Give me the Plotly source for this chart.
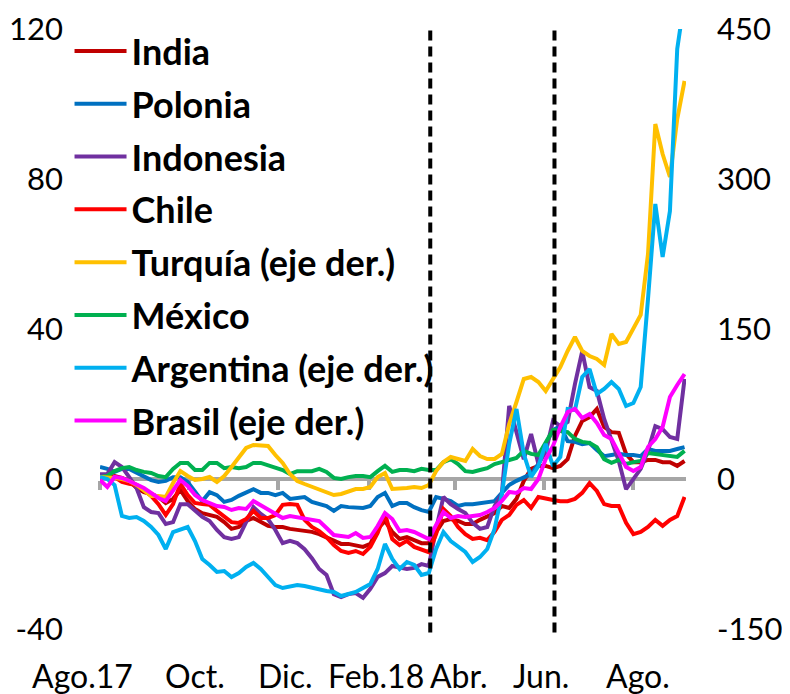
import pandas as pd
import plotly.graph_objects as go

# ---- data (5-day sampling, Aug-2017 .. Sep-2018) ----
dates = pd.date_range("2017-08-01", periods=81, freq="5D")

india = [0.5, 0.5, 0.8, 0.3, -0.5, -2.4, -3.5, -4.0, -4.8, -6.4,
         -5.3, -2.9, -5.9, -8.0, -9.1, -9.6, -10.1, -11.5, -13.3, -12.8,
         -11.2, -10.4, -11.5, -12.5, -12.8, -12.8, -13.3, -13.6, -13.9, -14.1,
         -14.7, -15.5, -16.5, -17.3, -17.3, -17.6, -18.1, -17.3, -13.3, -11.2,
         -14.1, -16.0, -15.5, -16.3, -17.1, -17.1, -13.9, -11.2, -10.7, -11.2,
         -12.0, -12.0, -10.9, -9.9, -9.1, -7.2, -7.7, -5.3, -0.5, 2.7,
         3.5, 3.5, 2.9, 3.5, 5.3, 11.5, 15.5, 16.5, 18.7, 13.9,
         12.5, 12.3, 6.7, 4.5, 4.5, 5.1, 5.1, 4.5, 4.5, 3.5, 4.8]

polonia = [3.2, 2.7, 1.9, 2.7, 2.7, 1.6, 0.5, -0.3, -0.8, -0.5,
           0.5, 0.5, -0.8, -3.2, -5.9, -3.5, -4.3, -6.1, -5.6, -4.5,
           -3.5, -2.7, -3.7, -3.7, -4.3, -3.7, -5.3, -5.1, -4.8, -6.1,
           -6.7, -7.2, -8.5, -7.2, -7.5, -7.7, -7.7, -7.2, -4.8, -3.7,
           -7.2, -6.4, -6.4, -7.5, -8.3, -8.8, -4.8, -5.3, -5.9, -7.2,
           -6.7, -6.7, -6.4, -6.1, -5.9, -3.7, -1.6, -0.5, 0.3, 1.3,
           4.0, 9.3, 13.1, 14.1, 10.1, 9.9, 9.3, 9.6, 7.7, 6.1,
           6.4, 6.7, 6.4, 6.4, 6.1, 8.0, 7.5, 7.5, 7.5, 8.0, 8.5]

indonesia = [1.3, 1.3, 4.5, 3.2, 0.5, -2.4, -7.5, -8.8, -9.1, -12.0,
             -11.5, -6.7, -6.7, -8.5, -10.1, -11.2, -13.6, -15.5, -16.0, -15.5,
             -11.7, -7.5, -9.3, -10.7, -13.6, -17.1, -16.5, -17.1, -18.7, -21.1,
             -24.0, -25.6, -30.7, -31.5, -30.7, -30.4, -31.7, -29.3, -26.1, -25.1,
             -23.2, -23.7, -24.0, -23.7, -22.7, -23.2, -13.3, -4.8, -6.7, -8.0,
             -9.1, -11.7, -13.3, -12.8, -7.2, -4.0, 19.5, 12.5, 5.3, 12.0,
             4.0, 7.2, 15.5, 14.1, 15.2, 25.3, 34.1, 24.5, 23.5, 16.0,
             10.7, 4.8, -2.7, 0.0, 2.7, 7.5, 14.1, 13.3, 11.2, 10.7, 26.7]

chile = [0.5, 0.3, 0.5, -0.8, -1.3, -1.6, -2.9, -4.5, -6.7, -9.6,
         -6.7, -1.3, -4.3, -6.4, -6.7, -6.9, -8.5, -10.1, -11.5, -11.7,
         -10.7, -8.5, -10.4, -10.4, -9.6, -6.9, -6.7, -6.9, -10.9, -12.8,
         -13.9, -15.5, -17.6, -19.2, -19.7, -19.2, -20.0, -18.1, -14.4, -9.3,
         -16.0, -17.6, -16.5, -18.1, -18.9, -19.5, -14.7, -8.0, -9.9, -12.8,
         -14.7, -16.0, -15.7, -16.3, -14.1, -10.9, -9.6, -6.9, -5.6, -7.7,
         -4.8, -5.3, -5.6, -5.9, -5.9, -5.3, -3.7, -1.1, -3.2, -6.7,
         -7.2, -7.2, -11.7, -14.7, -14.1, -12.8, -10.9, -12.5, -10.9, -9.9, -4.8]

turquia = [2, 2, 1, 0, -2, -6, -11, -17, -17, -18,
           -4, 8, 3, -1, 0, 2, -3, 3, 12, 21,
           31, 34, 33, 33, 24, 16, 5, -2, -5, -8,
           -10, -14, -16, -15, -12, -10, -10, -8, 2, 6,
           -10, -10, -9, -8, -9, -6, 8, 17, 22, 20,
           18, 30, 23, 20, 20, 25, 55, 77, 100, 102,
           97, 88, 100, 112, 128, 142, 128, 123, 120, 114,
           145, 135, 137, 150, 164, 225, 355, 325, 302, 360, 398]

mexico = [0.5, 0.8, 2.1, 2.9, 3.2, 2.4, 1.9, 1.6, 0.8, 0.5,
          2.7, 4.3, 4.3, 2.4, 2.4, 4.3, 4.3, 2.9, 3.2, 2.9,
          3.2, 4.3, 4.3, 3.7, 2.9, 2.4, 1.3, 2.1, 2.1, 2.1,
          2.7, 1.9, 0.3, 0.0, 0.5, 0.8, 0.8, 0.5, 2.1, 3.5,
          1.9, 2.4, 2.4, 2.1, 2.7, 2.4, 2.4, 4.5, 5.3, 4.0,
          2.1, 1.9, 2.4, 2.9, 4.0, 4.5, 5.1, 5.6, 7.5, 6.7,
          6.4, 9.9, 13.1, 12.8, 12.5, 10.7, 9.9, 9.6, 8.5, 5.3,
          4.3, 5.1, 4.0, 4.5, 4.8, 6.9, 6.7, 6.4, 6.1, 5.9, 7.5]

argentina = [2, 0, -6, -37, -39, -38, -42, -48, -56, -70,
             -53, -50, -48, -62, -80, -86, -93, -92, -98, -94,
             -88, -84, -90, -98, -106, -109, -108, -106, -107, -109,
             -110, -112, -113, -117, -115, -113, -109, -105, -90, -65,
             -80, -90, -83, -86, -96, -94, -70, -53, -62, -67,
             -73, -83, -78, -70, -50, -15, 35, 70, 25, 2,
             13, 35, 13, 22, 70, 69, 102, 110, 85, 90,
             97, 90, 73, 76, 92, 180, 275, 222, 268, 430, 480]

brasil = [-1, -8, 2, 1, -2, -5, -9, -14, -19, -22,
          -12, -1, -7, -16, -21, -24, -27, -28, -31, -29,
          -30, -22, -26, -31, -35, -39, -37, -38, -40, -41,
          -42, -49, -56, -57, -58, -54, -59, -58, -47, -34,
          -40, -52, -51, -53, -56, -60, -46, -33, -39, -37,
          -38, -37, -36, -33, -29, -22, -13, -14, -9, -10,
          0, 20, 33, 52, 67, 70, 61, 65, 56, 44,
          40, 26, 12, 8, 12, 32, 40, 52, 82, 94, 105]

series_names = ["India", "Polonia", "Indonesia", "Chile", "Turquía (eje der.)",
                "México", "Argentina (eje der.)", "Brasil (eje der.)"]
series_values = [india, polonia, indonesia, chile, turquia, mexico, argentina, brasil]
series_colors = ["#C00000", "#0070C0", "#7030A0", "#FF0000", "#FFC000",
                 "#00B050", "#00B0F0", "#FF00FF"]
series_right = [False, False, False, False, True, False, True, True]

left_ticks = [-40, 0, 40, 80, 120]
right_ticks = [-150, 0, 150, 300, 450]
month_ticks = ["2017-08-01", "2017-10-01", "2017-12-01", "2018-02-01",
               "2018-04-01", "2018-06-01", "2018-08-01"]
x_labels = ["Ago.17", "Oct.", "Dic.", "Feb.18", "Abr.", "Jun.", "Ago."]
x_label_dates = ["2017-07-20", "2017-10-05", "2017-12-06", "2018-02-06",
                 "2018-04-03", "2018-05-30", "2018-08-04"]
event_dates = ["2018-03-15", "2018-06-08"]
x_range = ["2017-08-01", "2018-09-06"]

FONT = "Lato"

fig = go.Figure()
for name, vals, col, right in zip(series_names, series_values, series_colors, series_right):
    fig.add_trace(go.Scatter(
        x=dates[:len(vals)], y=vals, name=name, mode="lines",
        line=dict(color=col, width=4),
        yaxis="y2" if right else "y",
        legendgroup=name,
    ))

for d in event_dates:
    fig.add_shape(type="line", xref="x", yref="paper", x0=d, x1=d, y0=-0.006, y1=1,
                  line=dict(color="black", width=4, dash="10px,6px"), layer="above")

# x tick labels placed along the date axis (paper coords so the first one may sit left of the range)
r0, r1 = pd.Timestamp(x_range[0]), pd.Timestamp(x_range[1])
for lab, d in zip(x_labels, x_label_dates):
    xp = (pd.Timestamp(d) - r0) / (r1 - r0)
    fig.add_annotation(x=xp, y=-0.077, xref="paper", yref="paper", text=lab, showarrow=False,
                       xanchor="center", yanchor="middle",
                       font=dict(family=FONT, size=32, color="black"))

# page body has an 8px margin, so the figure is sized/offset to compensate
fig.update_layout(
    width=782, height=686,
    margin=dict(l=92, r=104, t=21, b=65, autoexpand=False),
    paper_bgcolor="white", plot_bgcolor="white",
    font=dict(family=FONT, size=30, color="black"),
    showlegend=True,
    legend=dict(x=-0.052, y=0.981, xanchor="left", yanchor="top", yref="container",
                bgcolor="rgba(0,0,0,0)", maxheight=640,
                font=dict(family=FONT, size=36, color="black", weight="bold"),
                tracegroupgap=3, itemwidth=52, traceorder="grouped"),
    xaxis=dict(type="date", range=x_range,
               anchor="free", position=0.25,
               showline=True, linecolor="#A6A6A6", linewidth=4,
               ticks="outside", tickvals=month_ticks, ticklen=9, tickwidth=4, tickcolor="#A6A6A6",
               showticklabels=False, showgrid=False, zeroline=False, layer="below traces"),
    yaxis=dict(range=[-40, 120], tickvals=left_ticks, ticktext=[str(v) for v in left_ticks],
               showgrid=False, zeroline=False,
               showline=False, ticks="", ticklabelstandoff=36,
               tickfont=dict(family=FONT, size=31, color="black")),
    yaxis2=dict(range=[-150, 450], tickvals=right_ticks, ticktext=[str(v) for v in right_ticks],
                overlaying="y", side="right",
                showgrid=False, zeroline=False, showline=False, ticks="", ticklabelstandoff=30,
                tickfont=dict(family=FONT, size=31, color="black")),
)

fig.write_html("out.html")
